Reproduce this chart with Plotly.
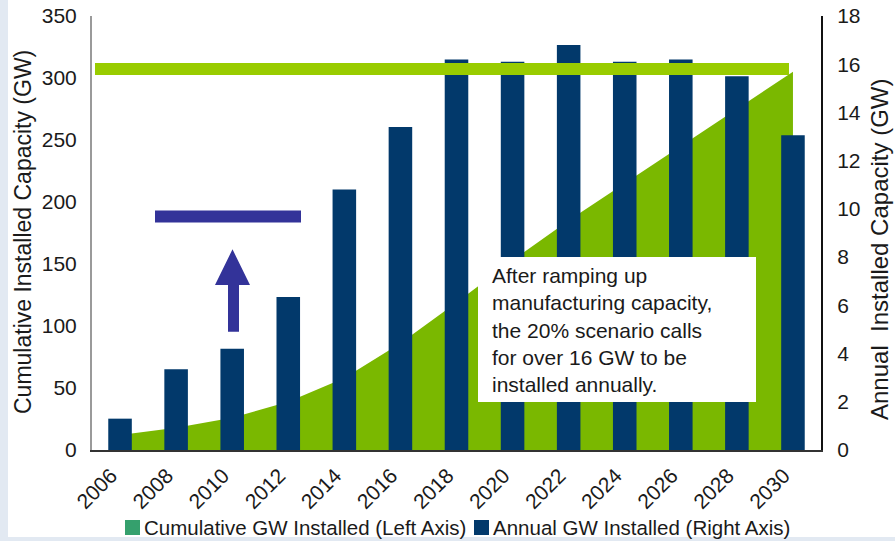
import plotly.graph_objects as go

# ---- data ----
years = ["2006", "2008", "2010", "2012", "2014", "2016", "2018",
         "2020", "2022", "2024", "2026", "2028", "2030"]
annual_gw = [1.3, 3.35, 4.2, 6.35, 10.8, 13.4, 16.2, 16.1, 16.8, 16.1, 16.2, 15.5, 13.05]
cumulative_gw = [12, 18, 26, 39, 58, 86, 119, 153, 185, 215, 245, 275, 305]
target_annual_gw = 15.8

series_names = ["Cumulative GW Installed (Left Axis)", "Annual GW Installed (Right Axis)"]
note_lines = ["After ramping up", "manufacturing capacity,", "the 20% scenario calls",
              "for over 16 GW to be", "installed annually."]

# ---- layout geometry (pixels) ----
W, H = 895, 541
L, R, T, B = 92, 74, 16, 91
PW, PH = W - L - R, H - T - B
FONT = "Liberation Sans, Arial, sans-serif"


def px(x):
    return (x - L) / PW


def py(y):
    return (H - B - y) / PH


BAR = "#02396B"
AREA = "#7AB800"
LINE = "#99CC00"
VIOLET = "#333399"
LEG_GREEN = "#35A06D"
TXT = "#1a1a1a"

fig = go.Figure()
fig.add_trace(go.Scatter(
    x=years, y=cumulative_gw, mode="lines", fill="tozeroy", name=series_names[0],
    fillcolor=AREA, line=dict(width=0, color=AREA), yaxis="y", showlegend=False,
    hoverinfo="skip"))
fig.add_trace(go.Bar(
    x=years, y=annual_gw, yaxis="y2", name=series_names[1],
    marker=dict(color=BAR, line=dict(width=0)), width=0.42, showlegend=False))

shapes = []
# page edge tint
shapes.append(dict(type="rect", xref="paper", yref="paper", x0=px(0), x1=px(8),
                   y0=py(H), y1=py(0), fillcolor="#e2e9f2", line=dict(width=0), layer="below"))
shapes.append(dict(type="rect", xref="paper", yref="paper", x0=px(0), x1=px(W),
                   y0=py(H), y1=py(537), fillcolor="#e2e9f2", line=dict(width=0), layer="below"))
# target line
shapes.append(dict(type="line", xref="x domain", yref="y2", x0=px(95), x1=px(789),
                   y0=target_annual_gw, y1=target_annual_gw,
                   line=dict(color=LINE, width=12), layer="above"))
# violet bar
shapes.append(dict(type="rect", xref="paper", yref="paper", x0=px(155), x1=px(301),
                   y0=py(222.5), y1=py(210.5), fillcolor=VIOLET, line=dict(width=0), layer="above"))
# arrow
pts = [(228, 331.7), (239, 331.7), (239, 285), (250, 285), (232.5, 249.3), (215, 285), (228, 285)]
path = "M " + " L ".join(f"{px(a):.5f},{py(b):.5f}" for a, b in pts) + " Z"
shapes.append(dict(type="path", xref="paper", yref="paper", path=path,
                   fillcolor=VIOLET, line=dict(width=0), layer="above"))
# note box
shapes.append(dict(type="rect", xref="paper", yref="paper", x0=px(478), x1=px(756),
                   y0=py(402), y1=py(257), fillcolor="white", line=dict(width=0), layer="above"))

# legend (drawn as swatches + text so it does not resize the plot area)
legend_items = [(125, LEG_GREEN, series_names[0]), (474, BAR, series_names[1])]
annotations = []
for x0, col, name in legend_items:
    shapes.append(dict(type="rect", xref="paper", yref="paper", x0=px(x0), x1=px(x0 + 15),
                       y0=py(535), y1=py(520), fillcolor=col, line=dict(width=0)))
    annotations.append(dict(text=name, xref="paper", yref="paper", x=px(x0 + 17), y=py(527.5),
                            xanchor="left", yanchor="middle", showarrow=False,
                            font=dict(family=FONT, size=20.5, color=TXT)))

annotations.append(dict(text="<br>".join(note_lines), xref="paper", yref="paper",
                        x=px(490), y=py(330), xanchor="left", yanchor="middle", align="left",
                        showarrow=False, font=dict(family=FONT, size=21, color=TXT)))
annotations.append(dict(text="Cumulative Installed Capacity (GW)", xref="paper", yref="paper",
                        x=px(23), y=py(232), textangle=-90, showarrow=False,
                        xanchor="center", yanchor="middle",
                        font=dict(family=FONT, size=23, color=TXT)))
annotations.append(dict(text="Annual  Installed Capacity (GW)", xref="paper", yref="paper",
                        x=px(879), y=py(250), textangle=-90, showarrow=False,
                        xanchor="center", yanchor="middle",
                        font=dict(family=FONT, size=24, color=TXT)))

fig.update_layout(
    width=W, height=H,
    margin=dict(l=L, r=R, t=T, b=B, pad=0, autoexpand=False),
    paper_bgcolor="white", plot_bgcolor="white",
    font=dict(family=FONT, size=21, color=TXT),
    showlegend=False,
    xaxis=dict(type="category", range=[-0.5, 12.5], showgrid=False, zeroline=False,
               showline=True, linecolor="#333333", linewidth=2, automargin=False,
               tickangle=-45, ticks="", ticklabelstandoff=3, ticklabelshift=-9,
               tickfont=dict(size=21, color=TXT)),
    yaxis=dict(range=[0, 350], dtick=50, showgrid=False, zeroline=False, automargin=False,
               showline=True, linecolor="#9a9a9a", linewidth=2, ticks="",
               ticklabelstandoff=9, tickfont=dict(size=21, color=TXT)),
    yaxis2=dict(range=[0, 18], dtick=2, overlaying="y", side="right", showgrid=False,
                zeroline=False, showline=True, linecolor="#111111", linewidth=2, automargin=False,
                ticks="", ticklabelstandoff=10, tickfont=dict(size=21, color=TXT)),
    shapes=shapes, annotations=annotations,
)

fig.write_html("out.html")
